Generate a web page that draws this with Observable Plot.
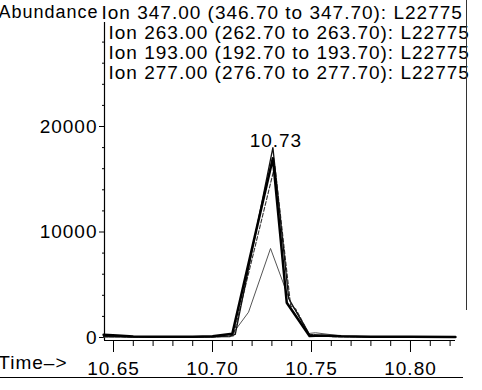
<!DOCTYPE html>
<html>
<head>
<meta charset="utf-8">
<script src="https://cdn.jsdelivr.net/npm/d3@7"></script>
<script src="https://cdn.jsdelivr.net/npm/@observablehq/plot@0.6"></script>
<style>
  html, body { margin: 0; padding: 0; background: #fff; }
  #wrap { position: relative; width: 482px; height: 390px; overflow: hidden; }
  #underline { position: absolute; left: 0; top: 377px; width: 463px; height: 1px; background: #000; }
  #rightline { position: absolute; left: 466px; top: 0; width: 1px; height: 310px; background: #333; }
</style>
</head>
<body>
<div id="wrap"><div id="chart"></div><div id="underline"></div><div id="rightline"></div></div>
<script>
// Axis text
const yLabel = "Abundance";
const xLabel = "Time–>";
const ionLabels = [
  "Ion 347.00 (346.70 to 347.70): L22775",
  "Ion 263.00 (262.70 to 263.70): L22775",
  "Ion 193.00 (192.70 to 193.70): L22775",
  "Ion 277.00 (276.70 to 277.70): L22775"
];
const peakLabel = "10.73";
const peakTime = 10.73;

// Ticks
const xTicks = [10.65, 10.70, 10.75, 10.80];
const xMinorTicks = [10.65,10.66,10.67,10.68,10.69,10.70,10.71,10.72,10.73,10.74,10.75,10.76,10.77,10.78,10.79,10.80,10.81,10.82];
const yTicks = [0, 10000, 20000];
const yMinorTicks = [2000,4000,6000,8000,12000,14000,16000,18000,22000,24000,26000,28000];

// Ion 347.00
const tA = [10.645, 10.652, 10.660, 10.670, 10.680, 10.690, 10.700, 10.706, 10.710, 10.7305, 10.7375, 10.749, 10.755, 10.765, 10.780, 10.800, 10.8227];
const vA = [250, 200, 90, 60, 60, 70, 120, 250, 350, 17000, 3300, 150, 200, 120, 80, 60, 50];
// Ion 263.00
const tB = [10.645, 10.660, 10.680, 10.700, 10.709, 10.7115, 10.7305, 10.7385, 10.749, 10.760, 10.780, 10.8227];
const vB = [100, 60, 40, 60, 150, 300, 18000, 3700, 250, 100, 60, 40];
// Ion 193.00
const tC = [10.645, 10.670, 10.700, 10.7105, 10.7315, 10.7395, 10.742, 10.749, 10.760, 10.8227];
const vC = [80, 40, 50, 150, 16300, 3000, 2700, 300, 80, 40];
// Ion 277.00
const tD = [10.645, 10.680, 10.709, 10.7182, 10.7293, 10.7394, 10.7419, 10.747, 10.7485, 10.752, 10.765, 10.780, 10.8227];
const vD = [40, 30, 60, 2400, 8440, 3300, 2560, 950, 380, 450, 150, 60, 40];

const toRows = (t, v) => t.map((x, i) => ({t: x, v: v[i]}));
const A = toRows(tA, vA), B = toRows(tB, vB), C = toRows(tC, vC), D = toRows(tD, vD);

const xDomain = [10.64545, 10.82273];
const yDomain = [-284, 29858];
const fmt = d3.format("d");

const ionMarks = ionLabels.map((s, i) =>
  Plot.text([s], {frameAnchor: "top-left", text: d => d, textAnchor: "start", lineAnchor: "middle",
    dx: i === 0 ? -3 : 4, dy: -10 + 20 * i, fill: "#000"})
);

const plot = Plot.plot({
  width: 482,
  height: 390,
  marginLeft: 104,
  marginRight: 27,
  marginTop: 22,
  marginBottom: 50,
  style: {fontFamily: "Liberation Sans, Arial, sans-serif", fontSize: "19px", letterSpacing: "1px", color: "#000", background: "#fff", overflow: "visible"},
  x: {domain: xDomain, axis: null},
  y: {domain: yDomain, axis: null},
  marks: [
    Plot.ruleX([xDomain[0]], {stroke: "#000", strokeWidth: 1.2}),
    Plot.ruleY([yDomain[0]], {stroke: "#000", strokeWidth: 1.2}),
    Plot.axisY(yTicks, {label: null, tickSize: 5, tickPadding: 2, tickFormat: fmt, stroke: "#000", fill: "#000"}),
    Plot.axisY(yMinorTicks, {label: null, tickSize: 2, tickFormat: () => "", stroke: "#000"}),
    Plot.axisX(xMinorTicks, {label: null, tickSize: 6, tickFormat: () => "", stroke: "#000"}),
    Plot.axisX(xTicks, {label: null, tickSize: 12, tickPadding: 9, tickFormat: d3.format(".2f"), stroke: "#000", fill: "#000"}),
    Plot.line(D, {x: "t", y: "v", stroke: "#555", strokeWidth: 1}),
    Plot.line(C, {x: "t", y: "v", stroke: "#333", strokeWidth: 1.1, strokeDasharray: "4,2"}),
    Plot.line(B, {x: "t", y: "v", stroke: "#111", strokeWidth: 1.3}),
    Plot.line(A, {x: "t", y: "v", stroke: "#000", strokeWidth: 2.5}),
    Plot.text([peakLabel], {x: () => peakTime, y: () => d3.max(vB), text: d => d, dx: 4, dy: -7, fill: "#000"}),
    Plot.text([yLabel], {frameAnchor: "top-left", text: d => d, textAnchor: "end", lineAnchor: "middle", dx: -6, dy: -10, fontSize: 18, letterSpacing: "-0.2px", fill: "#000"}),
    ...ionMarks,
    Plot.text([xLabel], {frameAnchor: "bottom-left", text: d => d, textAnchor: "end", dx: -37, dy: 28, letterSpacing: 0, fill: "#000"})
  ]
});
document.getElementById("chart").appendChild(plot);
</script>
</body>
</html>
